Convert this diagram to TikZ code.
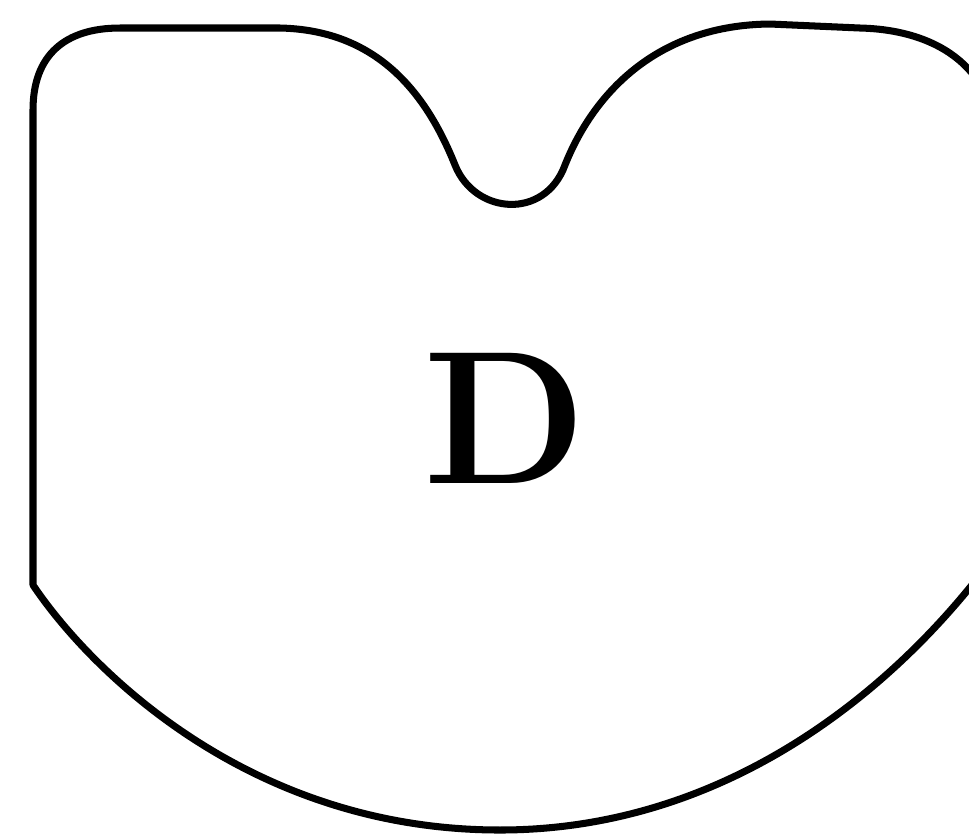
\documentclass[tikz,border=0pt]{standalone}
\usepackage{tikz}

\begin{document}
\begin{tikzpicture}[
      outline/.style={draw, line width=2pt, line join=round, line cap=round},
      lbl/.style={font=\fontsize{54}{54}\selectfont\bfseries, inner sep=0pt}
    ]
    \useasboundingbox (0,0) rectangle (9.69,-8.36);
    \clip (0,0) rectangle (9.69,-8.36);
    % ===== outline with notch at top =====
    \path[outline] (0.33,-5.85) -- (0.33,-1.10)
      .. controls (0.33,-0.55) and (0.65,-0.28) .. (1.20,-0.28)
      -- (2.80,-0.28)
      .. controls (3.75,-0.30) and (4.25,-0.90) .. (4.55,-1.65)
      .. controls (4.75,-2.15) and (5.45,-2.20) .. (5.65,-1.65)
      .. controls (5.95,-0.90) and (6.60,-0.25) .. (7.70,-0.24)
      -- (8.60,-0.28)
      .. controls (9.45,-0.30) and (9.95,-0.75) .. (9.95,-1.40)
      -- (9.95,-5.55)
      .. controls (9.00,-6.85) and (7.30,-8.30) .. (5.00,-8.30)
      .. controls (2.50,-8.30) and (0.90,-6.70) .. (0.33,-5.85);
    % label
    \node[lbl] (d) at (5.05,-4.18) {D};
\end{tikzpicture}
\end{document}
